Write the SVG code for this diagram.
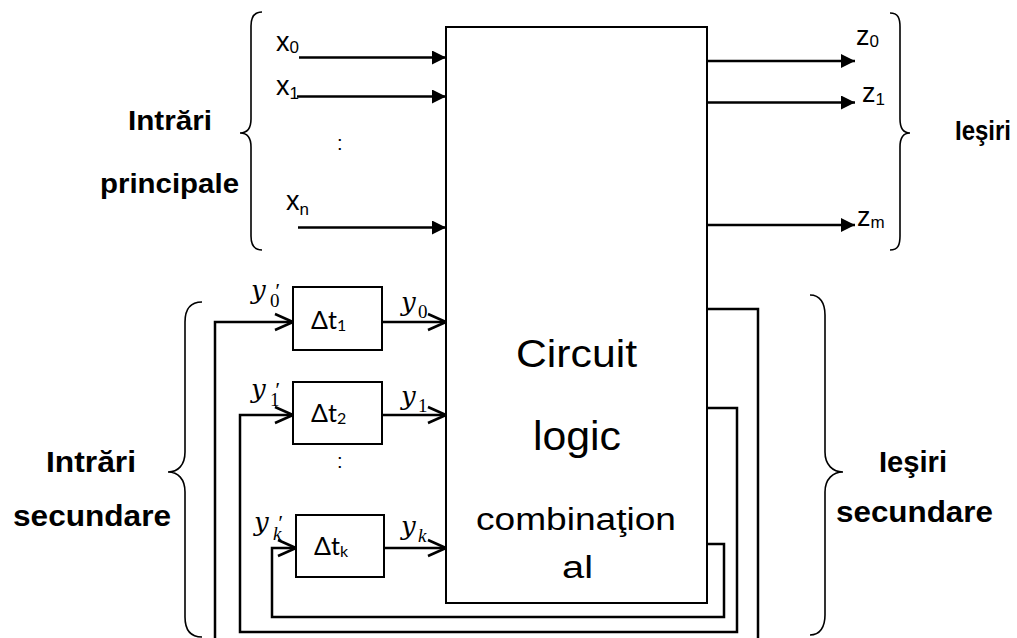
<svg xmlns="http://www.w3.org/2000/svg" width="1017" height="638" viewBox="0 0 1017 638">
<style>
.ln{fill:none;stroke:#000;stroke-width:2.5}
.br{fill:none;stroke:#000;stroke-width:1.6}
.bx{fill:#fff;stroke:#000;stroke-width:2}
.lb{font-family:"Liberation Sans",Arial,sans-serif;font-weight:bold;fill:#000}
.sans{font-family:"Liberation Sans",Arial,sans-serif;fill:#000}
.dt{font-family:Lato,"Liberation Sans",sans-serif;fill:#000;font-size:25px}
.yv{font-family:"DejaVu Serif","Liberation Serif",serif;font-style:italic;fill:#000;font-size:26px}
.ys{font-family:"Liberation Serif",serif;font-style:normal;fill:#000;font-size:19px}
.yk{font-family:"Liberation Serif",serif;font-style:italic;fill:#000;font-size:19px}
.pr{font-family:"Liberation Serif",serif;font-style:italic;fill:#000;font-size:22px}
</style>
<defs>
<marker id="fa" viewBox="0 0 14 14" markerWidth="14" markerHeight="14" refX="14" refY="7" orient="auto" markerUnits="userSpaceOnUse"><path d="M0,0 L14,7 L0,14 Z" fill="#000"/></marker>
<marker id="oa" viewBox="0 0 20 20" markerWidth="20" markerHeight="20" refX="19" refY="10" orient="auto" markerUnits="userSpaceOnUse"><path d="M1,2 L19,10 L1,18" fill="none" stroke="#000" stroke-width="2.5"/></marker>
</defs>

<g id="connectors">
<path class="ln" d="M299 57.5 H446" marker-end="url(#fa)"/>
<path class="ln" d="M297 96.5 H446" marker-end="url(#fa)"/>
<path class="ln" d="M298 227.5 H446" marker-end="url(#fa)"/>
<path class="ln" d="M707 61 H855" marker-end="url(#fa)"/>
<path class="ln" d="M707 102.5 H855" marker-end="url(#fa)"/>
<path class="ln" d="M707 225 H855" marker-end="url(#fa)"/>
<path class="ln" d="M382 322 H446" marker-end="url(#oa)"/>
<path class="ln" d="M382 415 H446" marker-end="url(#oa)"/>
<path class="ln" d="M384 548 H446" marker-end="url(#oa)"/>
<path class="ln" d="M707 309 H758 V645 H215 V322 H293" marker-end="url(#oa)"/>
<path class="ln" d="M707 408 H737 V632 H240 V415 H293" marker-end="url(#oa)"/>
<path class="ln" d="M707 544 H724 V617 H272 V548 H296" marker-end="url(#oa)"/>
</g>

<g id="main">
<rect class="bx" x="446" y="27" width="261" height="576"/>
<text class="sans" x="516" y="367" font-size="39" textLength="121" lengthAdjust="spacingAndGlyphs">Circuit</text>
<text class="sans" x="533" y="450" font-size="41" textLength="88" lengthAdjust="spacingAndGlyphs">logic</text>
<text class="sans" x="476" y="530" font-size="31" textLength="200" lengthAdjust="spacingAndGlyphs">combinaţion</text>
<text class="sans" x="562" y="578" font-size="31" textLength="31" lengthAdjust="spacingAndGlyphs">al</text>
</g>

<g id="dt1">
<rect class="bx" x="293" y="287" width="89" height="63"/>
<text class="dt" x="311" y="329">Δt<tspan font-size="16" dy="2">1</tspan></text>
</g>
<g id="dt2">
<rect class="bx" x="293" y="382" width="89" height="62"/>
<text class="dt" x="311" y="422">Δt<tspan font-size="16" dy="2">2</tspan></text>
</g>
<g id="dtk">
<rect class="bx" x="296" y="515" width="88" height="62"/>
<text class="dt" x="314" y="555">Δt<tspan font-size="16" dy="2">k</tspan></text>
</g>

<g id="inputs-labels">
<text class="sans" x="276" y="51" font-size="27">x<tspan font-size="17" dy="2">0</tspan></text>
<text class="sans" x="276" y="95" font-size="27">x<tspan font-size="17" dy="4">1</tspan></text>
<text class="sans" x="286" y="210" font-size="27">x<tspan font-size="17" dy="5">n</tspan></text>
<text class="sans" x="337" y="150" font-size="20">:</text>
<text class="sans" x="337" y="468" font-size="20">:</text>
</g>

<g id="outputs-labels">
<text class="sans" x="856" y="45" font-size="27">z<tspan font-size="17" dy="2">0</tspan></text>
<text class="sans" x="862" y="102" font-size="27">z<tspan font-size="17" dy="3">1</tspan></text>
<text class="sans" x="857" y="226" font-size="27">z<tspan font-size="17" dy="2">m</tspan></text>
</g>

<g id="y-labels">
<text class="yv" x="251" y="299">y<tspan class="pr" x="274" y="298">′</tspan><tspan class="ys" x="270" y="307">0</tspan></text>
<text class="yv" x="251" y="398">y<tspan class="pr" x="274" y="397">′</tspan><tspan class="ys" x="270" y="406">1</tspan></text>
<text class="yv" x="254" y="531">y<tspan class="pr" x="277" y="530">′</tspan><tspan class="yk" x="273" y="540">k</tspan></text>
<text class="yv" x="401" y="311">y<tspan class="ys" x="418" y="318">0</tspan></text>
<text class="yv" x="401" y="405">y<tspan class="ys" x="418" y="412">1</tspan></text>
<text class="yv" x="401" y="535">y<tspan class="yk" x="418" y="542">k</tspan></text>
</g>

<g id="braces">
<path class="br" d="M262 12 C254 12 251 17 251 26 V119 C251 128 247 133 240 133 C247 133 251 138 251 147 V236 C251 245 254 250 262 250"/>
<path class="br" d="M890 13 C898 13 900 18 900 27 V119 C900 128 903 133 910 133 C903 133 900 138 900 147 V236 C900 245 898 250 890 250"/>
<path class="br" d="M202 302 C190 302 185 310 185 322 V452 C185 465 178 472 168 472 C178 472 185 479 185 492 V617 C185 629 190 637 202 637"/>
<path class="br" d="M810 295 C820 295 825 303 825 315 V452 C825 465 833 472 843 472 C833 472 825 479 825 492 V615 C825 627 820 635 810 635"/>
</g>

<g id="labels">
<text class="lb" x="128" y="130" font-size="28" textLength="84" lengthAdjust="spacingAndGlyphs">Intrări</text>
<text class="lb" x="100" y="193" font-size="28" textLength="139" lengthAdjust="spacingAndGlyphs">principale</text>
<text class="lb" x="955" y="140" font-size="27" textLength="56" lengthAdjust="spacingAndGlyphs">Ieşiri</text>
<text class="lb" x="46" y="472" font-size="30" textLength="90" lengthAdjust="spacingAndGlyphs">Intrări</text>
<text class="lb" x="13" y="526" font-size="30" textLength="158" lengthAdjust="spacingAndGlyphs">secundare</text>
<text class="lb" x="879" y="472" font-size="30" textLength="68" lengthAdjust="spacingAndGlyphs">Ieşiri</text>
<text class="lb" x="836" y="522" font-size="30" textLength="157" lengthAdjust="spacingAndGlyphs">secundare</text>
</g>
</svg>
